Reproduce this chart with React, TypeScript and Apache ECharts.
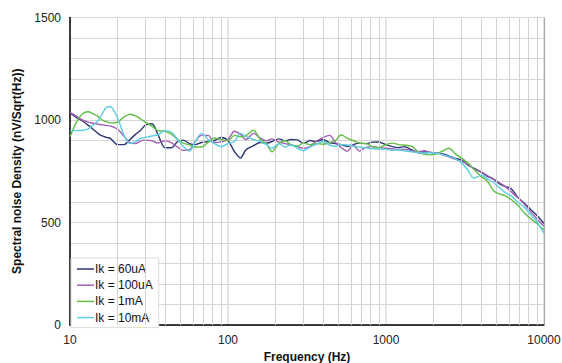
import React, { useEffect, useRef } from "react";
import * as echarts from "echarts";

const freqs = [10, 11, 12, 13, 14, 15, 16, 17, 18, 20, 22, 24, 26, 28, 30, 33, 36, 40, 44, 48, 52, 57, 62, 68, 75, 82, 90, 100, 110, 120, 130, 145, 160, 175, 190, 210, 230, 250, 275, 300, 330, 360, 400, 440, 480, 520, 570, 620, 680, 750, 820, 900, 1000, 1100, 1200, 1300, 1450, 1600, 1750, 1900, 2100, 2300, 2500, 2750, 3000, 3300, 3600, 4000, 4400, 4800, 5200, 5700, 6200, 6800, 7500, 8200, 9000, 10000];

const ik60uA = [1035, 1012, 995, 975, 955, 935, 922, 915, 910, 880, 880, 905, 930, 950, 975, 982, 930, 865, 865, 895, 902, 885, 880, 890, 895, 900, 915, 900, 845, 815, 855, 875, 890, 887, 895, 908, 898, 905, 903, 885, 900, 895, 905, 890, 885, 880, 872, 880, 887, 885, 892, 893, 880, 870, 865, 870, 855, 840, 845, 842, 838, 835, 825, 812, 805, 780, 765, 745, 725, 710, 690, 675, 665, 625, 595, 565, 535, 495];

const ik100uA = [1037, 1018, 1000, 990, 984, 980, 976, 973, 971, 955, 920, 888, 885, 898, 902, 899, 888, 898, 888, 868, 852, 855, 895, 925, 925, 890, 893, 905, 945, 930, 905, 935, 912, 898, 908, 892, 885, 880, 870, 862, 870, 895, 915, 925, 890, 865, 848, 878, 848, 868, 870, 865, 862, 860, 855, 858, 850, 845, 850, 842, 840, 830, 820, 808, 798, 785, 762, 748, 728, 712, 695, 675, 650, 622, 590, 555, 518, 482];

const ik1mA = [918, 990, 1030, 1040, 1030, 1018, 1000, 992, 986, 990, 1015, 1028, 1020, 1005, 990, 970, 948, 945, 930, 905, 887, 878, 868, 868, 892, 912, 905, 900, 925, 918, 925, 950, 905, 885, 845, 885, 900, 880, 872, 887, 880, 885, 882, 890, 900, 928, 910, 900, 887, 885, 870, 865, 880, 887, 880, 878, 872, 845, 832, 830, 835, 850, 862, 835, 815, 790, 760, 725, 700, 655, 640, 630, 612, 585, 548, 520, 495, 465];

const ik10mA = [948, 948, 950, 955, 975, 995, 1030, 1062, 1065, 1010, 925, 885, 895, 910, 915, 922, 928, 948, 940, 905, 872, 848, 895, 935, 905, 885, 870, 885, 895, 935, 920, 905, 895, 880, 862, 885, 868, 878, 862, 850, 868, 880, 895, 878, 872, 880, 878, 872, 868, 864, 860, 858, 858, 852, 855, 850, 845, 842, 838, 840, 838, 830, 822, 810, 792, 755, 716, 730, 712, 695, 670, 645, 630, 600, 575, 540, 505, 448];

const seriesNames = ["Ik = 60uA", "Ik = 100uA", "Ik = 1mA", "Ik = 10mA"];
const seriesColors = ["#2d3774", "#a35fb3", "#63bd45", "#5ccde2"];
const minorFreqs = [20, 30, 40, 50, 60, 70, 80, 90, 200, 300, 400, 500, 600, 700, 800, 900, 2000, 3000, 4000, 5000, 6000, 7000, 8000, 9000];

const FONT = "'Liberation Sans', Arial, sans-serif";

export default function App() {
  const ref = useRef<HTMLDivElement>(null);
  useEffect(() => {
    if (!ref.current) return;
    const chart = echarts.init(ref.current, undefined, { renderer: "svg" });
    const allValues = [ik60uA, ik100uA, ik1mA, ik10mA];
    const series: any[] = allValues.map((vals, i) => ({
      name: seriesNames[i],
      type: "line",
      data: freqs.map((f, j) => [f, vals[j]]),
      showSymbol: false,
      symbol: "none",
      smooth: 0.3,
      lineStyle: { color: seriesColors[i], width: 1.4 },
      itemStyle: { color: seriesColors[i] },
      z: 3 + i,
    }));
    series.push({
      type: "line",
      data: [],
      silent: true,
      z: 1,
      markLine: {
        silent: true,
        symbol: ["none", "none"],
        label: { show: false },
        animation: false,
        lineStyle: { color: "#d2d2d2", width: 1, type: "solid" },
        data: minorFreqs.map((f) => ({ xAxis: f })).concat([{ xAxis: 10000, lineStyle: { color: "#aaaaaa", width: 1.2, type: "solid" } } as any]),
      },
    });
    chart.setOption({
      animation: false,
      textStyle: { fontFamily: FONT },
      grid: { left: 70, right: 18, top: 17.5, bottom: 38, containLabel: false, outerBoundsMode: "none" },
      legend: {
        orient: "vertical",
        left: 71,
        top: 258,
        data: seriesNames,
        icon: "rect",
        itemWidth: 17,
        itemHeight: 1.5,
        itemGap: 4.2,
        padding: [5, 6, 4, 6],
        backgroundColor: "#ffffff",
        borderColor: "#dddddd",
        borderWidth: 1,
        textStyle: { fontFamily: FONT, fontSize: 12, color: "#111", padding: [0, 0, 0, -4], lineHeight: 12 },
      },
      xAxis: {
        type: "log",
        logBase: 10,
        min: 10,
        max: 10000,
        name: "Frequency (Hz)",
        nameLocation: "middle",
        nameGap: 26,
        nameTextStyle: { fontFamily: FONT, fontWeight: "bold", fontSize: 12, color: "#111" },
        axisLine: { show: true, lineStyle: { color: "#000", width: 1.5 } },
        axisTick: { show: false },
        axisLabel: { fontFamily: FONT, fontSize: 12, color: "#222", margin: 9, formatter: (v: number) => String(Math.round(v)) },
        splitLine: { show: true, lineStyle: { color: "#dcdcdc", width: 1.5 } },
        minorTick: { show: false },
        minorSplitLine: { show: false },
      },
      yAxis: {
        type: "value",
        min: 0,
        max: 1500,
        interval: 500,
        name: "Spectral noise Density (nV/Sqrt(Hz))",
        nameLocation: "middle",
        nameGap: 46,
        nameTextStyle: { fontFamily: FONT, fontWeight: "bold", fontSize: 12, color: "#111" },
        axisLine: { show: true, lineStyle: { color: "#000", width: 1.5 } },
        axisTick: { show: false },
        axisLabel: { fontFamily: FONT, fontSize: 12, color: "#222", margin: 9, formatter: (v: number) => String(v) },
        splitLine: { show: true, lineStyle: { color: "#d6d6d6", width: 1.2 } },
        minorTick: { show: false, splitNumber: 5 },
        minorSplitLine: { show: true, lineStyle: { color: "#d6d6d6", width: 1 } },
      },
      series,
    });
    return () => chart.dispose();
  }, []);
  return <div ref={ref} style={{ width: 562, height: 363, position: "absolute", left: 0, top: 0 }} />;
}
